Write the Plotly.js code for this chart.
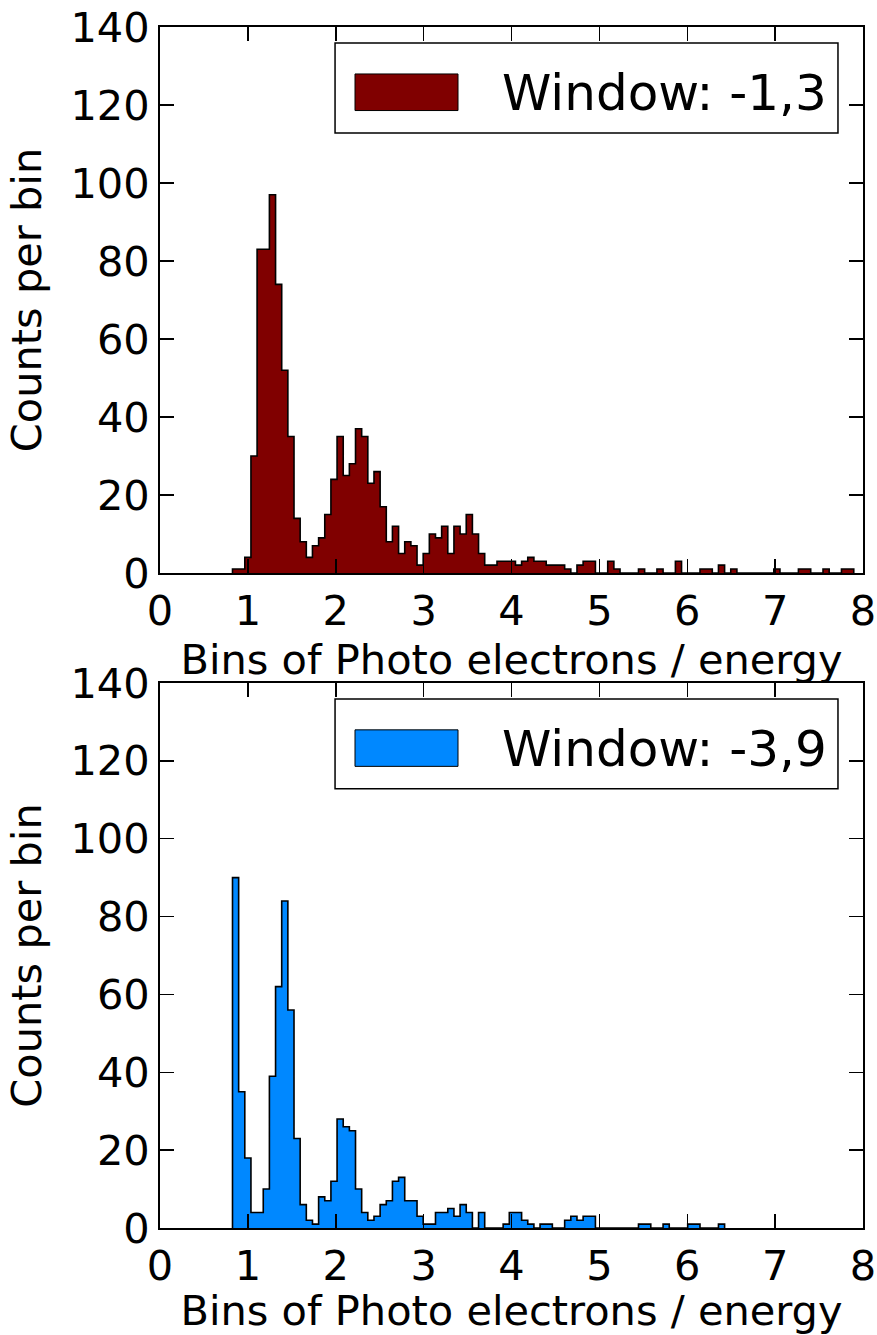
<!DOCTYPE html>
<html><head><meta charset="utf-8">
<script src="https://cdn.plot.ly/plotly-3.0.1.min.js"></script>
<style>html,body{margin:0;padding:0;background:#fff}#chart{width:877px;height:1335px}</style>
</head><body><div id="chart"></div>
<script>
// Histogram bins (uniform): left edge of first bin and bin width
const BIN_START = 0.825;
const BIN_WIDTH = 0.07;

// Counts per bin
const countsWindowA = [1,1,4,30,83,83,97,74,52,35,14,8,4,7,9,15,24,35,25,28,37,35,23,26,17,8,12,5,8,7,2,5,10,9,12,5,12,10,15,10,5,2,2,3,3,3,2,3,4,3,3,2,2,2,1,0,2,3,3,0,0,3,1,0,0,0,1,0,0,1,0,0,3,0,0,0,1,1,0,2,0,1,0,0,0,0,0,0,1,0,0,0,1,1,0,0,1,0,0,1,1];
const countsWindowB = [90,35,18,4,4,10,39,62,84,56,23,6,2,1,8,7,12,28,26,25,10,4,2,3,6,7,12,13,7,7,3,1,1,4,4,5,3,6,4,0,4,0,0,0,1,4,4,2,1,0,1,1,0,0,2,3,2,3,3,0,0,0,0,0,0,0,1,1,0,0,1,0,0,0,1,1,0,0,0,1];

const legendLabels = ['Window: -1,3', 'Window: -3,9'];
const seriesColors = ['#800000', '#0088ff'];
const xTickVals = [0,1,2,3,4,5,6,7,8];
const yTickVals = [0,20,40,60,80,100,120,140];
const xTitle = 'Bins of Photo electrons / energy';
const yTitle = 'Counts per bin';

function stepXY(counts) {
  const x = [BIN_START], y = [0];
  counts.forEach((c, i) => { x.push(BIN_START + i * BIN_WIDTH); y.push(c); });
  const end = BIN_START + counts.length * BIN_WIDTH;
  x.push(end); y.push(counts[counts.length - 1]);
  x.push(end); y.push(0);
  return {x, y};
}

const FONT = {family: 'DejaVu Sans, sans-serif', size: 41.5, color: '#000'};

function makeTrace(counts, color, xa, ya) {
  const s = stepXY(counts);
  return {
    type: 'scatter', mode: 'lines', x: s.x, y: s.y, xaxis: xa, yaxis: ya,
    line: {shape: 'hv', color: '#000', width: 1.6},
    fill: 'tozeroy', fillcolor: color, hoverinfo: 'skip', showlegend: false
  };
}

function xAxis(anchor) {
  return {
    anchor, range: [0, 8], tickvals: xTickVals, ticktext: xTickVals.map(String),
    ticks: 'inside', ticklen: 14, tickwidth: 1.5, tickcolor: '#000',
    showline: true, linecolor: '#000', linewidth: 2, mirror: 'ticks',
    showgrid: false, zeroline: false, tickfont: FONT, automargin: false,
    title: {text: xTitle, font: FONT, standoff: 4}
  };
}
function yAxis(anchor, domain) {
  return {
    anchor, domain, range: [0, 140], tickvals: yTickVals, ticktext: yTickVals.map(String),
    ticks: 'inside', ticklen: 14, tickwidth: 1.5, tickcolor: '#000',
    showline: true, linecolor: '#000', linewidth: 2, mirror: 'ticks',
    showgrid: false, zeroline: false, tickfont: FONT, automargin: false,
    title: {text: yTitle, font: FONT, standoff: 16}
  };
}

function legendItems(xref, yref, color, label) {
  return {
    shapes: [
      {type: 'rect', xref, yref, x0: 0.249, x1: 0.9644, y0: 0.806, y1: 0.9707,
       line: {color: '#000', width: 1.5}, fillcolor: '#fff', layer: 'above'},
      {type: 'rect', xref, yref, x0: 0.2774, x1: 0.4239, y0: 0.847, y1: 0.914,
       line: {color: '#000', width: 1}, fillcolor: color, layer: 'above'}
    ],
    annotations: [
      {xref, yref, x: 0.4836, y: 0.879, xanchor: 'left', yanchor: 'middle',
       text: label, showarrow: false, font: {family: FONT.family, size: 50, color: '#000'}}
    ]
  };
}

const la = legendItems('x domain', 'y domain', seriesColors[0], legendLabels[0]);
const lb = legendItems('x2 domain', 'y2 domain', seriesColors[1], legendLabels[1]);

const data = [
  makeTrace(countsWindowA, seriesColors[0], 'x', 'y'),
  makeTrace(countsWindowB, seriesColors[1], 'x2', 'y2')
];

const layout = {
  width: 877, height: 1335,
  margin: {l: 160, r: 14, t: 27, b: 107},
  paper_bgcolor: '#fff', plot_bgcolor: '#fff',
  font: FONT, showlegend: false,
  xaxis: xAxis('y'),
  yaxis: yAxis('x', [0.5454, 1]),
  xaxis2: xAxis('y2'),
  yaxis2: yAxis('x2', [0, 0.4538]),
  shapes: la.shapes.concat(lb.shapes),
  annotations: la.annotations.concat(lb.annotations)
};

Plotly.newPlot('chart', data, layout, {staticPlot: true, displayModeBar: false});
</script>
</body></html>
